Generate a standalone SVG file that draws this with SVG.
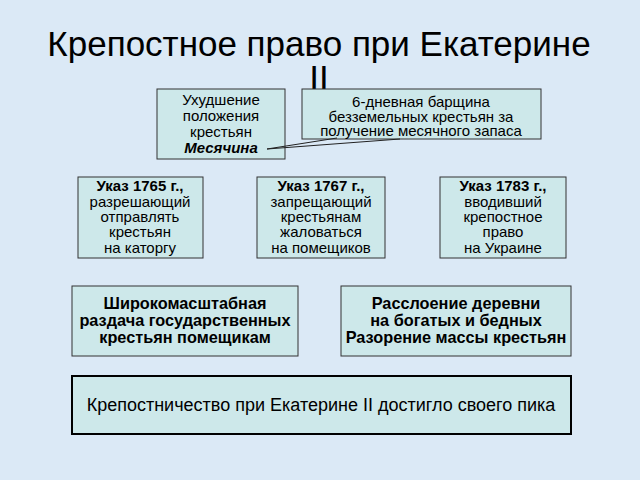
<svg xmlns="http://www.w3.org/2000/svg" width="640" height="480" viewBox="0 0 640 480">
<style>
.b{fill:#cde8ea;stroke:#333;stroke-width:1}
.t{font-family:"Liberation Sans",Arial,sans-serif;font-size:15px;fill:#000;text-anchor:middle}
.bd{font-weight:bold}
.r3{font-size:16.3px}
.big{font-size:18px}
</style>
<rect width="640" height="480" fill="#dbe9f6"/>
<text x="319" y="56" font-family="Liberation Sans,Arial,sans-serif" font-size="35" text-anchor="middle" fill="#000">Крепостное право при Екатерине</text>
<text x="319" y="90" font-family="Liberation Sans,Arial,sans-serif" font-size="35" text-anchor="middle" fill="#000">II</text>
<g id="n1"><rect class="b" x="157" y="89" width="128" height="70"/>
<text class="t" x="221" y="105">Ухудшение</text><text class="t" x="221" y="121">положения</text><text class="t" x="221" y="137">крестьян</text><text class="t bd" x="221" y="153" font-style="italic">Месячина</text></g>
<g id="n2"><rect class="b" x="302" y="89" width="239" height="50"/>
<text class="t" x="421" y="107">6-дневная барщина</text><text class="t" x="421" y="122">безземельных крестьян за</text><text class="t" x="421" y="136">получение месячного запаса</text></g>
<g id="c"><path d="M267,149 L337,138 M267,149 L400,139" stroke="#222" fill="none"/></g>
<g id="n3"><rect class="b" x="78" y="177" width="125" height="81"/>
<text class="t bd" x="140" y="191">Указ 1765 г.,</text><text class="t" x="140" y="207">разрешающий</text><text class="t" x="140" y="222">отправлять</text><text class="t" x="140" y="237">крестьян</text><text class="t" x="140" y="253">на каторгу</text></g>
<g id="n4"><rect class="b" x="257" y="177" width="128" height="81"/>
<text class="t bd" x="321" y="191">Указ 1767 г.,</text><text class="t" x="321" y="207">запрещающий</text><text class="t" x="321" y="222">крестьянам</text><text class="t" x="321" y="237">жаловаться</text><text class="t" x="321" y="253">на помещиков</text></g>
<g id="n5"><rect class="b" x="440" y="177" width="126" height="81"/>
<text class="t bd" x="503" y="191">Указ 1783 г.,</text><text class="t" x="503" y="207">вводивший</text><text class="t" x="503" y="222">крепостное</text><text class="t" x="503" y="237">право</text><text class="t" x="503" y="253">на Украине</text></g>
<g id="n6"><rect class="b" x="72" y="286" width="226" height="70"/>
<text class="t bd r3" x="185" y="309">Широкомасштабная</text><text class="t bd r3" x="185" y="326">раздача государственных</text><text class="t bd r3" x="185" y="343">крестьян помещикам</text></g>
<g id="n7"><rect class="b" x="341" y="286" width="230" height="70"/>
<text class="t bd r3" x="456" y="309">Расслоение деревни</text><text class="t bd r3" x="456" y="326">на богатых и бедных</text><text class="t bd r3" x="456" y="343">Разорение массы крестьян</text></g>
<g id="n8"><rect x="72" y="376" width="499" height="58" fill="#cde8ea" stroke="#000" stroke-width="2"/>
<text class="t big" x="321" y="411">Крепостничество при Екатерине II достигло своего пика</text></g>
</svg>
